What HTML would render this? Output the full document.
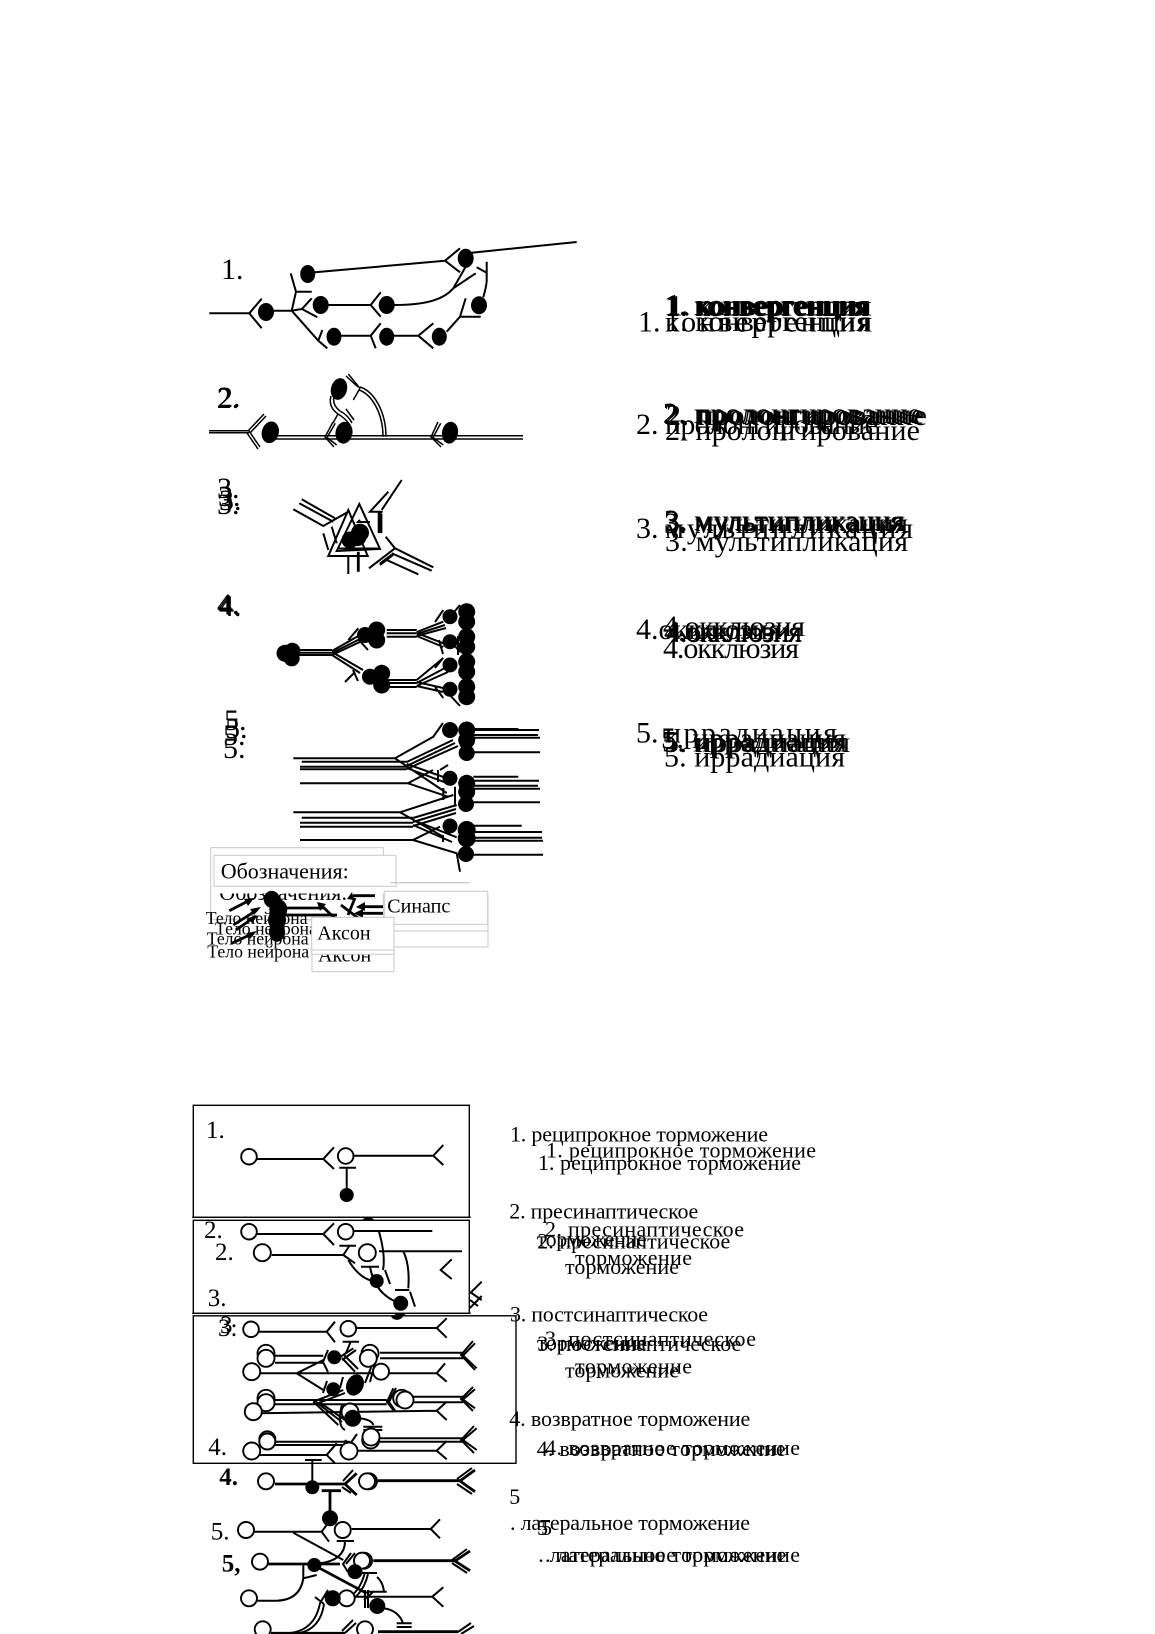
<!DOCTYPE html>
<html><head><meta charset="utf-8"><style>
html,body{margin:0;padding:0;background:#fff}
svg{display:block}
text{font-family:"Liberation Serif","Noto Serif CJK SC",serif;fill:#000}
.l{fill:none;stroke:#000;stroke-width:2}
.d{fill:none;stroke:#000;stroke-width:1.5}
.t{fill:none;stroke:#000;stroke-width:2.8}
.o{fill:#fff;stroke:#000;stroke-width:1.9}
.b{fill:#fff;stroke:#000;stroke-width:1.4}
.g{fill:#fff;stroke:#c8c8c8;stroke-width:1}
.a{font-size:30px}.c{font-size:22px}.s{font-size:17.7px}.m{font-size:20px}.n{font-size:25px}
</style></head><body>
<svg width="1155" height="1634" viewBox="0 0 1155 1634" xmlns="http://www.w3.org/2000/svg">
<rect width="1155" height="1634" fill="#fff"/>

<!-- Section 1 labels -->
<text class="a" x="221" y="279">1.</text>
<g class="a">
<text x="216.7" y="408">2.</text><text x="218" y="407">2.</text>
<text x="217" y="498">3.</text><text x="218" y="506">3.</text><text x="217" y="514">3.</text><text x="219" y="510">3.</text>
<text x="217" y="614">4.</text><text x="218" y="615">4.</text><text x="219" y="616">4.</text>
<text x="224" y="730">5.</text><text x="225" y="738">5.</text><text x="223" y="745">5.</text><text x="223" y="758">5.</text>
</g>

<!-- Diagram 1 -->
<path class="l" d="M315 272.3L445 260.7M460 248.3L445 260.7L460 272.3M471.7 252.7L576.7 242M209.3 313.3H249.3M261.7 298.7L249.3 313.3L261.7 328.3M271.7 310.7H291.7L296 291.7M290.7 273.3L296 291.7H311.7M291.7 310.7L302 309M311.7 298.3L302 309L317.3 317.3M291.7 310.7L318.3 340.7M322.3 330L318.3 340.7L327.3 348.3M326.7 305H370.7M380.7 292.3L370.7 305L380.7 316.7M393.3 305C430 305 445 298 453.3 288.3M465.7 266.7L453.3 288.3M475.7 273.3L453.3 288.3M483.3 297.3Q486.7 285 486.7 280V261.7M476.7 267.3L486.7 272.7M340 335.7H370.7M380.7 323.3L370.7 335.7L375.7 348.3M393.3 335.7H418.3M433.3 323.3L418.3 335.7L433.3 348.3M446.7 331.7L460 316.7M465.7 298.3L460 316.7H480.7"/>
<g fill="#000">
<ellipse cx="307.7" cy="274" rx="7.5" ry="9"/><ellipse cx="465.7" cy="258.3" rx="8" ry="9.5"/><ellipse cx="266" cy="312" rx="8" ry="9"/><ellipse cx="320.7" cy="305" rx="8" ry="9"/><ellipse cx="386.7" cy="305" rx="8" ry="9"/><ellipse cx="479" cy="305.3" rx="8" ry="9"/><ellipse cx="334" cy="336.7" rx="7.5" ry="9"/><ellipse cx="386.7" cy="336.7" rx="7.5" ry="9"/><ellipse cx="439.3" cy="336.7" rx="7.5" ry="9"/>
</g>

<!-- Diagram 2 -->
<path class="d" d="M209 430.7H249M209 432.7H249M264 414L248 431M266 416L250 433M249 431L260 447M247 433L258 449M276 435.7H523M276 439H523M335.3 423.3L327 437.5L336.7 445M333 422L325 437L334 447M440.7 423.3L433 437.5L443.3 445M438 422L431 437L441 447M334 396Q332 405 340 411Q348 415 352 423M331 396Q328 407 338 414Q345 418 350 425M338 414L333 423M346 409L354 420M383 436.7C383 412 371 394 359 390M386 436.7C386 410 373 391 360 387M360 388.3L348.3 374M358 387L346 376M360 388.3L353.3 400"/>
<g fill="#000">
<ellipse cx="270.3" cy="432.3" rx="8.5" ry="11" transform="rotate(15 270.3 432.3)"/><ellipse cx="339" cy="389" rx="8" ry="11" transform="rotate(15 339 389)"/><ellipse cx="344" cy="432.7" rx="8.5" ry="11" transform="rotate(10 344 432.7)"/><ellipse cx="450" cy="432.7" rx="8" ry="11" transform="rotate(10 450 432.7)"/>
</g>

<!-- Diagram 3 -->
<path class="l" d="M328.3 556H367.7L348.3 510ZM336.7 551L380 549L359.3 504ZM339 548.5H378M301.7 499.3L335 518.3M299.3 503.3L333.3 521.7M293.3 509.3L323.3 526L348.3 511.7M331.7 526.7L336.7 543.3M323.3 533.3L328.3 550M401.7 480L381.7 510M388.3 491.7L370 511.7H382.7M380.7 511.7V533.3M378.7 511.7V533M348.3 556.7V574M385.7 536.7L395 548.3L433.3 567.3M391.7 553.3L431.7 570.7M386.7 560L418.3 574.3M369 568.3L395 548.3M380 565L393 555M360 520L358 522H370"/>
<path class="t" d="M358.3 551.7V571.7M381 514V533M392 555L380 564"/>
<g fill="#000"><circle cx="350" cy="540" r="8.5"/><circle cx="360" cy="532.7" r="9"/><circle cx="358" cy="538" r="8"/></g>

<!-- Diagram 4 -->
<path class="l" d="M298 650H332M298 652.7H332M298 655H332M332 651L360 635M332 653L362 638M332 655L362 641M358.3 628.3L348.3 640M332 652L363 670M332 655L360 673M358 681L353 670M345 682L355 672M359 640L368 650M386.7 630H416.7M386.7 633.3H416.7M386.7 636.7H416.7M416.7 632L443.3 621.7M416.7 634L445 625M416.7 636L446 628M416.7 633L443.3 643.3M416.7 636L443.3 647M443.3 610L435 622M443 654L439 640M386.7 680H416.7M386.7 683H416.7M386.7 687H416.7M416.7 680L443.3 658M416.7 683L445 668M416.7 686L448 672M416.7 682L443 688M416.7 686L443 692M443.3 698L435 687M443 658L435 668M460 605L450 617M460 652L450 640M460 706L447 692M458 636L458 655"/>
<g fill="#000">
<circle cx="285" cy="653.3" r="8.5"/><circle cx="292.3" cy="650.7" r="8"/><circle cx="291.7" cy="658.3" r="8"/>
<circle cx="365" cy="635" r="8"/><circle cx="376.7" cy="630" r="8.5"/><circle cx="376.7" cy="640" r="8.5"/>
<circle cx="370" cy="676.7" r="8"/><circle cx="381.7" cy="673.3" r="8.5"/><circle cx="381.7" cy="685" r="8.5"/>
<circle cx="450" cy="616.7" r="7.5"/><circle cx="466.7" cy="611.7" r="8.5"/><circle cx="466.7" cy="621.7" r="8.5"/>
<circle cx="450" cy="641.7" r="7.5"/><circle cx="466.7" cy="636.7" r="8.5"/><circle cx="466.7" cy="646.7" r="8.5"/>
<circle cx="450" cy="665" r="7.5"/><circle cx="466.7" cy="661.7" r="8.5"/><circle cx="466.7" cy="671.7" r="8.5"/>
<circle cx="450" cy="689.3" r="7.5"/><circle cx="466.7" cy="686.7" r="8.5"/><circle cx="466.7" cy="696.7" r="8.5"/>
</g>

<!-- Diagram 5 -->
<path class="l" d="M293.3 758.3H395M301.7 761.7H406.7M300 766.7H406.7M300 769.3H406.7M300 783.3H408M293.3 812.3H400M301.7 817.7H413M300 822.7H413M300 826.7H413M300 840H413M395 758.3L433.3 736.7L443 723M395 758.3L446.7 793M406.7 762L453 740M406.7 766L455 743M406.7 769L458 746M406.7 764L456.7 781.7M406.7 768L452 785M408 783.3L433 770M408 783.3L448 796.7M400 812.3L453.3 795M400 812.3L443.3 836.7M413 818L456.7 805M413 822L456 809M413 826L456 813M413 820L456.7 837.3M413 825L452 842M413 840L440 826.7M413 840L456.7 853.3L460 871.7M438 770V782M443.3 788V800M455 786.7V806.7M443 835V842M460 745L467 750M440 770L448 765"/>
<path class="l" d="M473.3 729H518.3M473.3 730H539M473.3 735H538M473.3 737.7H540M473.3 752.3H540M473.3 776.7H518.3M473.3 780.7H539M473.3 785.7H538M473.3 788.7H540M473.3 802.3H540M473.3 825.7H521.7M473.3 832H542M473.3 837.7H542M473.3 840.7H543M473.3 854.7H543"/>
<g fill="#000">
<circle cx="450" cy="730" r="8"/><circle cx="466.7" cy="730" r="8.5"/><circle cx="466.7" cy="740" r="8.5"/><circle cx="466.7" cy="753" r="8"/>
<circle cx="450" cy="778.3" r="7.5"/><circle cx="466.7" cy="783.3" r="8.5"/><circle cx="466.7" cy="791.7" r="8.5"/><circle cx="466" cy="804" r="8"/>
<circle cx="450" cy="826" r="7.5"/><circle cx="466.7" cy="830" r="9"/><circle cx="466.7" cy="838.3" r="9"/><circle cx="466" cy="854" r="8"/>
</g>

<!-- Legend -->
<rect class="g" x="210.7" y="847.7" width="172.6" height="72"/>
<text class="c" x="219.3" y="900">Обозначения:</text>
<rect x="215" y="880" width="180" height="13.5" fill="#fff"/>
<rect x="214" y="855.3" width="182" height="31" fill="#fff" stroke="#c8c8c8"/>
<text class="c" x="220.7" y="878.3">Обозначения:</text>
<path d="M390 882.7H470" stroke="#bbb" fill="none"/>
<path class="t" d="M286 908H323M285 915H337M353 895.7H375M341 905L358 918M348 915L355 898M229.3 910.7L250 900M233.3 925L257 910M236 930L256 916M231.7 943.3L254 933M383 906.7H362M383 913.3H360M340 923.3L322 906" />
<g fill="#000">
<path d="M254 898L244 899L248 906ZM261 907L250 909L254 915ZM258 915L248 918L252 923ZM257 931L247 933L250 939ZM356 907L365 902V911ZM354 913.3L363 909V918ZM317 902L320 911L326 904ZM352 892L347 899L354 900Z"/>
<ellipse cx="271.7" cy="899.3" rx="8" ry="8.5"/><ellipse cx="278.3" cy="909.3" rx="9" ry="10"/><ellipse cx="277" cy="920" rx="9" ry="10"/><ellipse cx="277" cy="931.7" rx="8" ry="10"/>
</g>
<g class="s">
<text x="205.7" y="924">Тело нейрона</text><text x="215" y="934.3">Тело нейрона</text><text x="206.7" y="944.3">Тело нейрона</text><text x="207.3" y="957.3">Тело нейрона</text>
</g>
<text class="m" x="390" y="935">Синапс</text>
<rect class="g" x="384" y="925" width="104" height="22"/>
<rect class="g" x="393" y="895" width="95" height="36"/>
<rect class="g" x="384.3" y="891.3" width="103.4" height="33"/>
<text class="m" x="387.3" y="912.7">Синапс</text>
<text class="m" x="318" y="961.7">Аксон</text>
<rect x="312" y="950" width="82" height="21.7" fill="none" stroke="#c8c8c8"/>
<rect class="g" x="311.7" y="917.3" width="82.3" height="37"/>
<path d="M312 950H394" stroke="#c8c8c8"/>
<text class="m" x="317.3" y="939.3">Аксон</text>

<!-- Right labels section 1 -->
<g class="a">
<text x="664" y="315">1. конвергенция</text><text x="665" y="316">1. конвергенция</text><text x="666" y="314.5">1. конвергенция</text><text x="668" y="315.5">1. конвергенция</text>
<text x="638" y="331.7">1.</text><text x="665" y="331.7" textLength="207" lengthAdjust="spacing">конвергенция</text>
<text x="665" y="331" textLength="205" lengthAdjust="spacing">1. конвергенция</text>
<text x="663" y="423" textLength="258" lengthAdjust="spacing">2. пролонгирование</text><text x="664" y="424" textLength="260" lengthAdjust="spacing">2. пролонгирование</text><text x="666" y="425" textLength="261" lengthAdjust="spacing">2. пролонгирование</text>
<text x="636" y="434">2.</text><text x="665" y="434" textLength="213" lengthAdjust="spacing">пролонгирование</text>
<text x="665" y="440" textLength="255" lengthAdjust="spacing">2. пролонгирование</text>
<text x="664" y="530" textLength="240" lengthAdjust="spacing">3. мультипликация</text><text x="665" y="531" textLength="240" lengthAdjust="spacing">3. мультипликация</text><text x="664" y="533" textLength="244" lengthAdjust="spacing">3. мультипликация</text>
<text x="636" y="538">3.</text><text x="665" y="538" textLength="248" lengthAdjust="spacing">мультипликация</text>
<text x="665" y="551" textLength="243" lengthAdjust="spacing">3. мультипликация</text>
<text x="636" y="639">4.окклюзия</text>
<text x="663" y="636" textLength="142" lengthAdjust="spacing">4.окклюзия</text><text x="664" y="641" textLength="138" lengthAdjust="spacing">4.окклюзия</text><text x="666" y="642" textLength="136" lengthAdjust="spacing">4.окклюзия</text>
<text x="663" y="658" textLength="136" lengthAdjust="spacing">4.окклюзия</text>
<text x="636" y="742.7">5.</text><text x="665" y="742.7" textLength="172" lengthAdjust="spacing">иррадиация</text>
<text x="661" y="748" textLength="185" lengthAdjust="spacing">5. иррадиация</text><text x="662" y="751.7" textLength="185" lengthAdjust="spacing">5. иррадиация</text><text x="664" y="752" textLength="186" lengthAdjust="spacing">5. иррадиация</text>
<text x="664" y="766.7" textLength="181" lengthAdjust="spacing">5. иррадиация</text>
</g>

<!-- Section 2 under-layer -->
<path class="l" d="M456 1171.7L466.7 1160M456 1171.7L466.7 1184M481.7 1281.7L470 1293.3M470 1292L481.7 1300M470 1308L481.7 1296M470 1300L478 1306"/>
<g fill="#000"><circle cx="368.3" cy="1224" r="7"/><circle cx="400" cy="1309" r="7.5"/></g>
<rect class="b" x="193.3" y="1105.3" width="276" height="112"/>
<rect class="b" x="193.3" y="1220.3" width="276" height="93"/>
<rect class="b" x="193.3" y="1315.8" width="322.7" height="147.5"/>
<path d="M192 1217.3H471M192 1313.3H471" stroke="#000" stroke-width="1" fill="none"/>
<path d="M391 1316.5A7 7 0 0 0 403 1316.5Z" fill="#000"/>

<!-- Box 1 -->
<text class="n" x="206" y="1138">1.</text>
<path class="l" d="M256.7 1159H323.3M334 1147.3L323.3 1159L334 1169M354 1155.7H433.3M443.3 1145L433.3 1155.7L443.3 1165M339.3 1167.7H356M346.7 1167.7V1188"/>
<circle class="o" cx="249" cy="1156.7" r="7.8"/><circle class="o" cx="345.7" cy="1156" r="7.8"/><circle cx="346.7" cy="1195" r="7" fill="#000"/>

<!-- Box 2 -->
<text class="n" x="204" y="1238">2.</text><text class="n" x="215" y="1260">2.</text><text class="n" x="207.7" y="1306">3.</text>
<path class="l" d="M256.7 1234H323.3M334 1223.3L323.3 1234L334 1245M354 1231H432.3M271.7 1255H343.3M350 1245L343.3 1255L355 1263.3M379 1251.3H462M339.3 1245.7H356M361 1266.7H379M451.7 1259.3L440.7 1270L451.7 1279M379 1231.7C383 1245 385 1260 383 1270M403.3 1251.3Q410 1265 408.3 1288.3M348.3 1260Q360 1280 376.7 1281.7M370 1266.7Q375 1295 400 1303.3M385 1270L390 1284M410 1291.7L415 1306.7M395 1290H409.3"/>
<circle class="o" cx="249" cy="1231.7" r="7.8"/><circle class="o" cx="345.7" cy="1231.7" r="7.8"/><circle class="o" cx="262.3" cy="1252.7" r="8.5"/><circle class="o" cx="367.3" cy="1252.7" r="8.5"/>
<g fill="#000"><circle cx="376.7" cy="1281" r="7"/><circle cx="400.7" cy="1303.3" r="7.5"/></g>

<!-- Box 3 -->
<text class="n" x="218" y="1336">3:</text><text class="n" x="220" y="1333">3</text><text class="n" x="208.3" y="1455">4.</text>
<path class="l" d="M259 1331.7H326.7M335 1321.7L326.7 1331.7L335 1342.3M356.7 1328H436.7M446.7 1318.3L436.7 1328L446.7 1337.7M342.7 1341.7H359M350.7 1341.7L346 1353"/>
<path class="l" d="M275 1355.7H323.3M275 1362.7H323.3M328 1350L323 1362L328 1372M340 1357L353.3 1348.3M342 1360L356 1350M342 1358L355 1371.7M344 1355L358 1369M380 1352.7H463.3M380 1358.3H463.3M475 1343.3L463 1355.5L476.7 1368.3M473 1341L461 1355L475 1370M260 1373.3H436.7M296.7 1373.3L323.3 1360M296.7 1373.3L323.3 1390M327 1381L323 1393M445 1363.3L436.7 1373.3L446.7 1381.7M372 1365L365 1383M375 1363L370 1382M372 1372H378M343 1377L340 1388"/>
<path class="l" d="M275 1400H386.7M275 1404.3H386.7M260 1413.3L436.7 1410.7M446.7 1401.7L436.7 1410.7L446.7 1420M313.3 1401.7L343.3 1390M316 1404L345 1393M313.3 1401.7L338.3 1425M316 1402L342 1422M319 1402L345 1420M413 1396.7H463M413 1402.3H463M475 1389.3L463 1399.5L475 1408.3M473 1387L461 1399L473 1411M393.3 1388.3L387 1402L393.3 1410M396 1388L389 1402L396 1412M360 1418.3Q372 1420 373.3 1425M363.3 1426.7H382.3M363.3 1430H382.3M342 1405C338 1418 340 1428 345 1430"/>
<path class="l" d="M275 1441.7H350M275 1445H350M380 1438.3H463M380 1441.7H463M476.7 1428.3L463 1440L476.7 1450M474 1426L461 1440L474 1453M260 1455H326.7M336.7 1443.3L326.7 1455L335 1463.3M356.7 1450.7H436.7M446.7 1441L436.7 1450.7L446.7 1459.3M357 1434L350 1444M345 1440L352 1448"/>
<circle class="o" cx="251" cy="1329.3" r="7.8"/><circle class="o" cx="348.3" cy="1328.7" r="7.8"/>
<circle class="o" cx="266" cy="1353.3" r="8.5"/><circle class="o" cx="266" cy="1358.3" r="8.5"/><circle class="o" cx="370" cy="1353.3" r="8.5"/><circle class="o" cx="368.3" cy="1358.3" r="8.5"/>
<circle class="o" cx="251.7" cy="1371.7" r="8.5"/><circle class="o" cx="381" cy="1371.7" r="8"/>
<circle class="o" cx="266" cy="1398.3" r="8.5"/><circle class="o" cx="266" cy="1402.7" r="8.5"/><circle class="o" cx="253.3" cy="1411.7" r="8.5"/><circle class="o" cx="401.7" cy="1398.3" r="8.5"/><circle class="o" cx="405" cy="1400" r="8.5"/>
<circle class="o" cx="267.3" cy="1439.3" r="8"/><circle class="o" cx="267.3" cy="1441.5" r="8"/><circle class="o" cx="370.7" cy="1440" r="8.5"/><circle class="o" cx="371" cy="1437" r="8.5"/>
<circle class="o" cx="251.7" cy="1451" r="8.5"/><circle class="o" cx="349" cy="1451" r="8.5"/>
<circle class="o" cx="350" cy="1412" r="8.5"/>
<g fill="#000"><circle cx="334.3" cy="1357.3" r="7"/><circle cx="333.3" cy="1389.3" r="7"/><ellipse cx="355" cy="1385" rx="8.5" ry="11" transform="rotate(25 355 1385)"/><circle cx="352.7" cy="1418.3" r="8.5"/></g>

<!-- Below box -->
<text class="n" x="219.3" y="1485" font-weight="bold">4.</text>
<text class="n" x="210.7" y="1539.3">5.</text>
<text class="n" x="221.7" y="1571.7" font-weight="bold">5,</text>
<path class="l" d="M305 1460H321.7M312.3 1460V1482M254 1531.7H321.7M329 1521.7L321.7 1531.7L329 1541.7M351.7 1529H430.7M440 1519.3L430.7 1529L440 1538.3M293.3 1532.7L343.3 1560M336.7 1541H354M345 1541Q345 1560 320 1563.3M256.7 1600.7H276.7Q300 1600 303.3 1578.3M303.3 1565L303.3 1578.3L316.7 1575M355 1596.7H432.3M443.3 1587.3L432.3 1596.7L443.3 1606.7M383.3 1608.3Q398 1610 403 1623M396.7 1623.3H411.7M396.7 1627H411.7M290 1633Q315 1630 320 1603M293 1634Q320 1632 324 1604M320 1603L328 1590M324 1604L315 1597M345 1600C355 1595 362 1585 365 1572M348 1602C358 1597 365 1587 368 1574M360 1573H377M366.7 1591.7H386.7M377 1577Q383 1582 384 1592M365 1590V1608M368 1590V1608M373 1592L364 1600"/>
<path class="t" d="M275 1484H345M356.7 1473.3L345 1484L356.7 1495M378 1480.7H460M475 1470L460 1481L475 1491.7M321.7 1490.7H341M330 1490.7V1511.7M268.3 1564H340M373.3 1560.7H455M470 1551L455 1561L470 1570.7M316.7 1566.7L366.7 1593.3M271 1633.3H345M378 1631.7H458"/>
<path class="l" d="M353 1470L343 1481M351 1493L342 1487M472 1468L457 1479M472 1494L457 1484M351 1553L343 1564L348 1572M355 1553L346 1564M467 1549L452 1560M467 1573L452 1563M356 1623L345 1633M353 1620L342 1631M471 1623L458 1632M474 1626L461 1634"/>
<circle class="o" cx="266" cy="1481.3" r="8" stroke-width="2.8"/><circle class="o" cx="369" cy="1481.3" r="8"/><circle class="o" cx="367" cy="1481.3" r="8"/>
<circle class="o" cx="246" cy="1530" r="8"/><circle class="o" cx="342.7" cy="1530" r="8"/>
<circle class="o" cx="260" cy="1561.7" r="8" stroke-width="2.8"/><circle class="o" cx="364" cy="1560.7" r="8"/><circle class="o" cx="362" cy="1560.7" r="8"/>
<circle class="o" cx="249" cy="1598.3" r="8"/><circle class="o" cx="346.7" cy="1598.3" r="8"/>
<circle class="o" cx="262.7" cy="1629.3" r="8" stroke-width="2.4"/><circle class="o" cx="365" cy="1629.3" r="8"/>
<g fill="#000"><circle cx="312.3" cy="1487.3" r="7"/><circle cx="330" cy="1518.3" r="8"/><circle cx="314.3" cy="1565" r="7"/><circle cx="355" cy="1571.7" r="7.5"/><circle cx="332.7" cy="1598.3" r="8"/><circle cx="377.3" cy="1606" r="8"/></g>

<!-- Right labels section 2 -->
<g class="c">
<text x="510" y="1141.7" textLength="258" lengthAdjust="spacing">1. реципрокное торможение</text>
<text x="546" y="1157.7" textLength="270" lengthAdjust="spacing">1. реципрокное торможение</text>
<text x="538" y="1170" textLength="263" lengthAdjust="spacing">1. реципрокное торможение</text>
<text x="509.3" y="1218.3" textLength="189" lengthAdjust="spacing">2. пресинаптическое</text>
<text x="545" y="1236.7" textLength="199" lengthAdjust="spacing">2. пресинаптическое</text>
<text x="536.7" y="1246.7" textLength="110" lengthAdjust="spacing">торможение</text>
<text x="537.3" y="1248.3" textLength="193" lengthAdjust="spacing">2. пресинаптическое</text>
<text x="575" y="1265" textLength="117" lengthAdjust="spacing">торможение</text>
<text x="565" y="1274" textLength="114" lengthAdjust="spacing">торможение</text>
<text x="510" y="1321.7" textLength="198" lengthAdjust="spacing">3. постсинаптическое</text>
<text x="545" y="1346" textLength="211" lengthAdjust="spacing">3. постсинаптическое</text>
<text x="537" y="1350" textLength="110" lengthAdjust="spacing">торможение</text>
<text x="537.3" y="1351" textLength="204" lengthAdjust="spacing">3. постсинаптическое</text>
<text x="575" y="1373.3" textLength="117" lengthAdjust="spacing">торможение</text>
<text x="565" y="1377.3" textLength="114" lengthAdjust="spacing">торможение</text>
<text x="509.3" y="1426" textLength="241" lengthAdjust="spacing">4. возвратное торможение</text>
<text x="545" y="1455" textLength="255" lengthAdjust="spacing">4. возвратное торможение</text>
<text x="536.7" y="1456" textLength="249" lengthAdjust="spacing">4. возвратное торможение</text>
<text x="509.3" y="1504">5</text>
<text x="510" y="1530" textLength="240" lengthAdjust="spacing">. латеральное торможение</text>
<text x="537" y="1535">5</text><text x="541" y="1535">5</text>
<text x="538.3" y="1562" textLength="248" lengthAdjust="spacing">. латеральное торможение</text>
<text x="545" y="1562" textLength="255" lengthAdjust="spacing">. латеральное торможение</text>
</g>
</svg>
</body></html>
